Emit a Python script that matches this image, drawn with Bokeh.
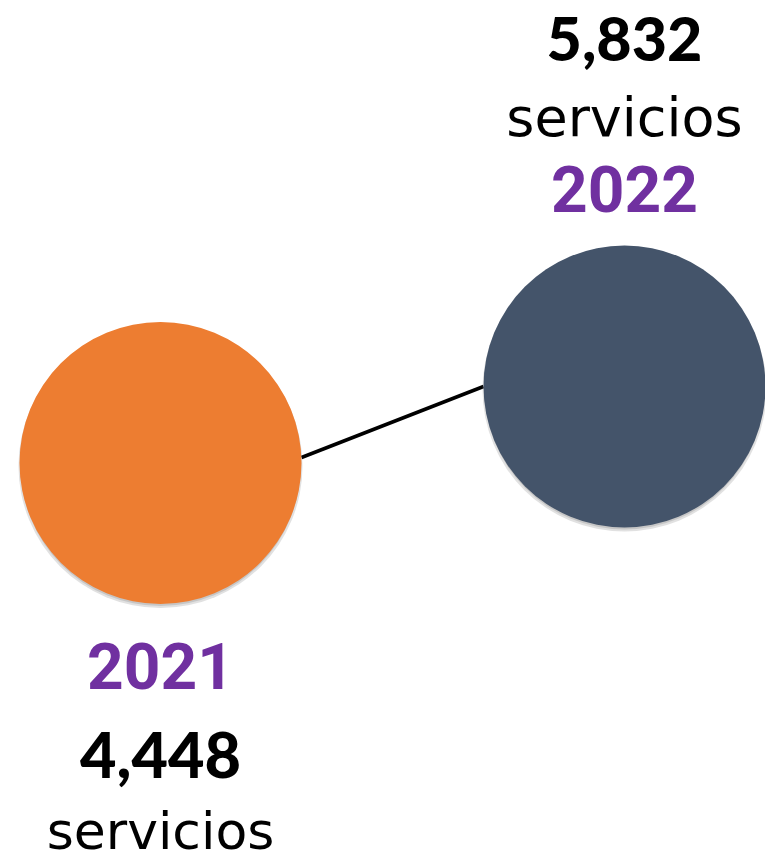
from bokeh.plotting import figure
from bokeh.models import Range1d, ColumnDataSource
from bokeh.core.properties import value
from bokeh.embed import file_html
from bokeh.resources import INLINE

years = [2021, 2022]
servicios = [4448, 5832]
year_labels = ["2021", "2022"]
value_labels = ["4,448", "5,832"]
unit_labels = ["servicios", "servicios"]
colors = ["#ED7D31", "#44546A"]

W, H = 765, 863
R = 141  # circle radius in px
# scales: pixels per year / per servicio
px_x = 464.0
px_y = 76.5 / 1384.0
x0 = years[0] - 160.0 / px_x
y_top = servicios[0] + 462.5 / px_y

p = figure(width=W, height=H, output_backend="svg", toolbar_location=None,
           x_range=Range1d(x0, x0 + W / px_x),
           y_range=Range1d(y_top - H / px_y, y_top),
           min_border=0, outline_line_color=None)
p.axis.visible = False
p.grid.visible = False
p.background_fill_color = "white"
p.border_fill_color = "white"

src = ColumnDataSource(dict(x=years, y=servicios, c=colors))

# connector between the circle edges
dx = R / px_x
p.line(x=[years[0] + dx, years[1] - dx],
       y=[servicios[0] + 5.5 / px_y, servicios[1]],
       line_color="black", line_width=3.5)

# soft shadow
sh = 3.0 / px_y
shadow = ColumnDataSource(dict(x=years, y=[v - sh for v in servicios]))
p.scatter(x="x", y="y", source=shadow, size=2 * R + 2, marker="circle",
          fill_color="#888888", fill_alpha=0.25, line_color=None)
p.scatter(x="x", y="y", source=shadow, size=2 * R - 2, marker="circle",
          fill_color="#777777", fill_alpha=0.25, line_color=None)
p.scatter(x="x", y="y", source=src, size=2 * R, marker="circle",
          fill_color="c", line_color=None)

s22 = ColumnDataSource(dict(x=[years[1]], y=[servicios[1]], vl=[value_labels[1]],
                            ul=[unit_labels[1]], yl=[year_labels[1]]))
s21 = ColumnDataSource(dict(x=[years[0]], y=[servicios[0]], vl=[value_labels[0]],
                            ul=[unit_labels[0]], yl=[year_labels[0]]))

NUM_FONT = "'Lato Black', 'Lato Heavy', Lato"

def label(source, field, off, font, size, style, color):
    p.text(x="x", y="y", text=field, source=source, y_offset=off,
           text_font=value(font), text_font_size=size, text_font_style=style,
           text_color=color, text_align="center", text_baseline="alphabetic")

label(s22, "vl", -348, NUM_FONT, "61px", "bold", "black")
label(s22, "ul", -269, "DejaVu Sans", "54px", "normal", "black")
label(s22, "yl", -198, "Roboto", "64px", "bold", "#7030A0")

label(s21, "yl", 202.5, "Roboto", "64px", "bold", "#7030A0")
label(s21, "vl", 292, NUM_FONT, "63px", "bold", "black")
label(s21, "ul", 368, "DejaVu Sans", "52px", "normal", "black")

open("out.html", "w").write(file_html(p, INLINE))
